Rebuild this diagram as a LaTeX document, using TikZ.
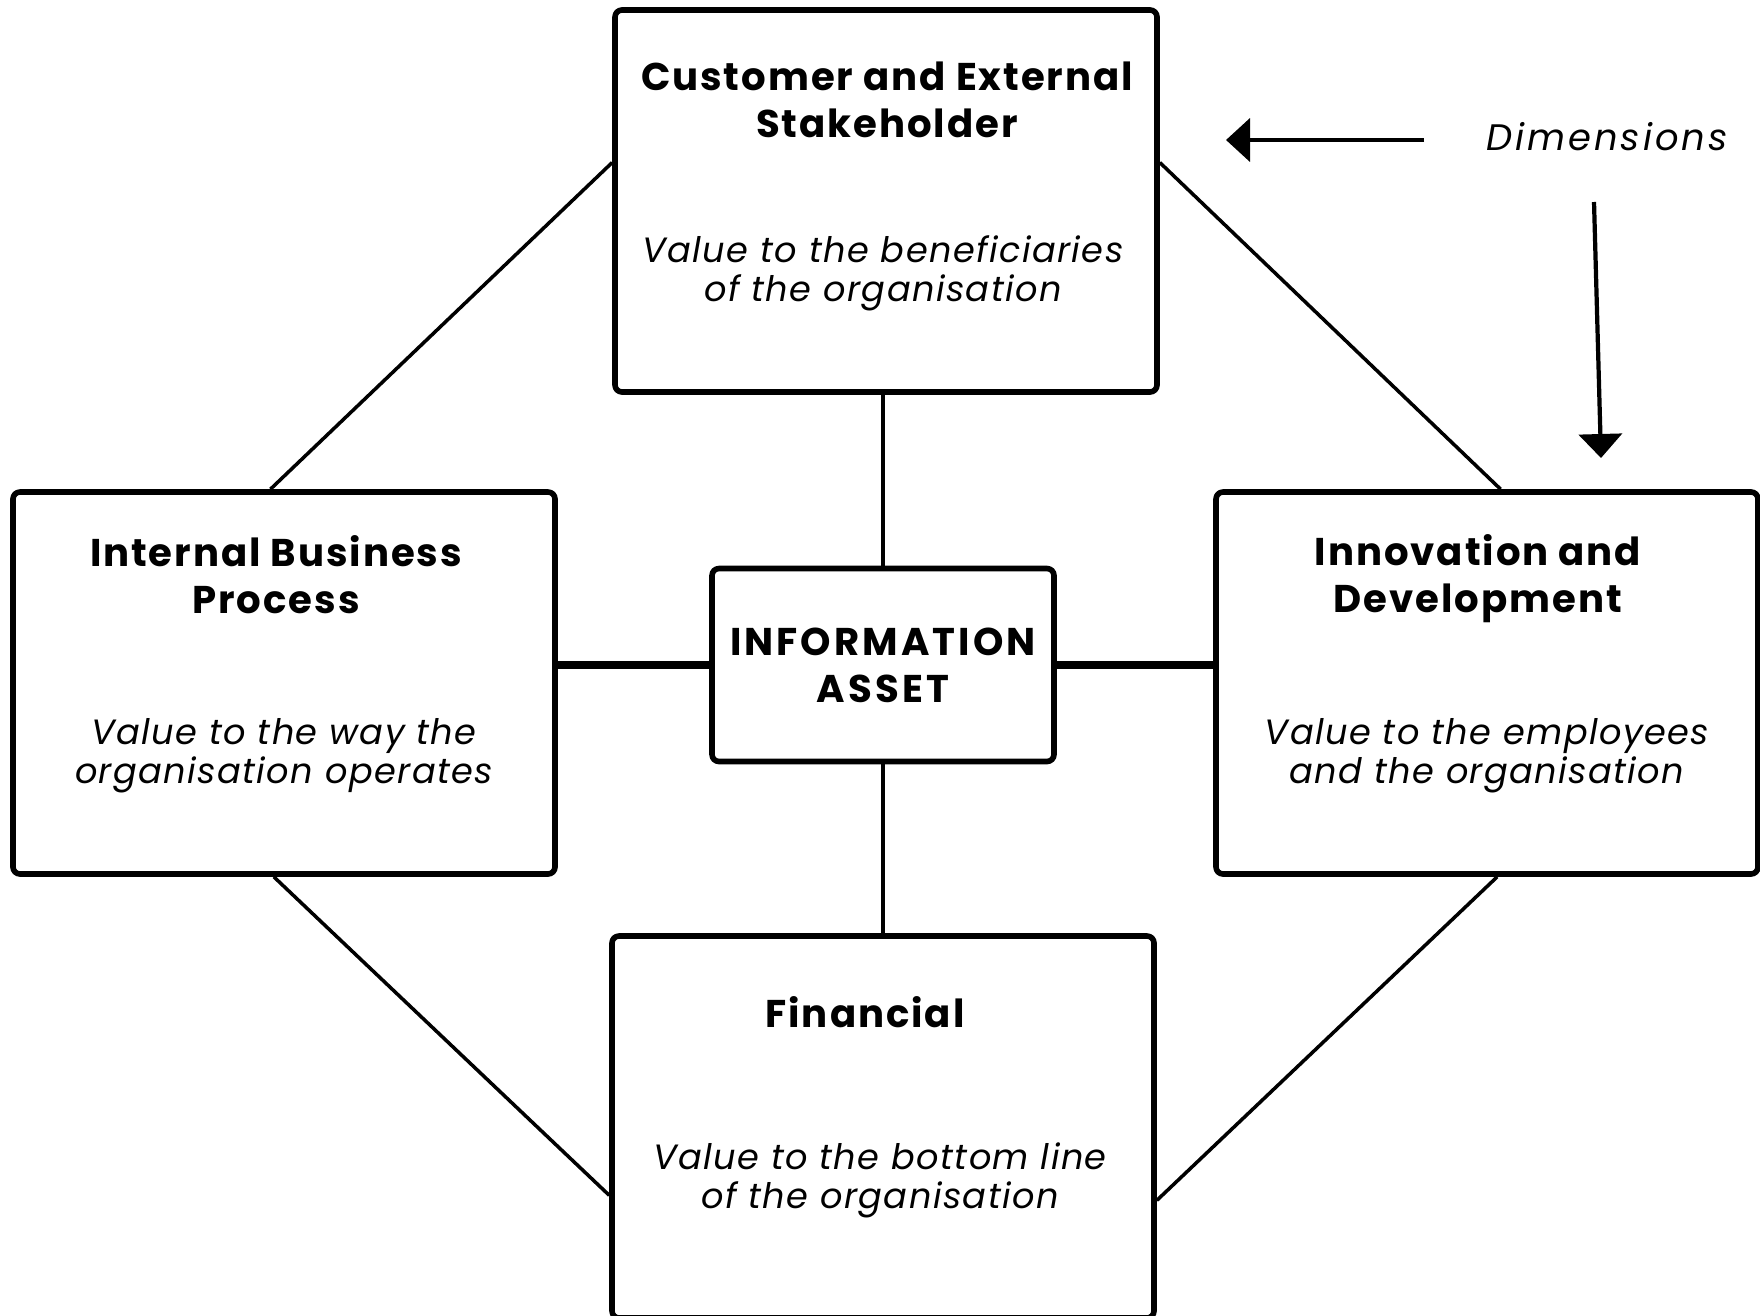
\documentclass[tikz,border=0pt]{standalone}
\usepackage{fontspec}
\setmainfont{Poppins}
\usetikzlibrary{arrows.meta,positioning}
\tikzset{
	panel/.style={draw, line width=1.6pt, rounded corners=2pt, minimum width=54.2mm, minimum height=38.2mm},
	hub/.style={draw, line width=1.6pt, rounded corners=2pt, minimum width=34.2mm, minimum height=19.3mm, align=center, font=\bfseries\fontsize{11}{13.4}\selectfont\addfontfeature{LetterSpace=8}},
	head/.style={font=\bfseries\fontsize{11}{13.4}\selectfont\addfontfeature{LetterSpace=5}, align=center},
	note/.style={font=\itshape\fontsize{10}{11.1}\selectfont\addfontfeature{LetterSpace=4}, align=center},
	spoke/.style={line width=1.3pt},
	rim/.style={line width=1pt},
	pointer/.style={line width=1.2pt, -{Triangle[width=4.3mm,length=2.4mm]}}
}
\begin{document}
\begin{tikzpicture}[x=0.1mm, y=-0.1mm, line join=round]
		\useasboundingbox (0,0) rectangle (1760,1315);
		% the four dimensions and the hub
		\node[panel] (cust) at (886,201) {};
		\node[panel] (proc) at (284,683) {};
		\node[panel] (inno) at (1487,683) {};
		\node[panel] (fin) at (883,1127) {};
		\node[hub] (asset) at (883,665) {INFORMATION\\ASSET};
		% texts in the boxes
		\node[head] (custhead) at (887,100) {Customer and External\\Stakeholder};
		\node[note] (custnote) at (883,273) {Value to the beneficiaries\\of the organisation};
		\node[head] (prochead) at (276,575) {Internal Business\\Process};
		\node[note] (procnote) at (284,756) {Value to the way the\\organisation operates};
		\node[head] (innohead) at (1478,579) {Innovation and\\Development};
		\node[note] (innonote) at (1487,756) {Value to the employees\\and the organisation};
		\node[head] (finhead) at (865,1012) {Financial};
		\node[note] (finnote) at (880,1180) {Value to the bottom line\\of the organisation};
		% spokes to the hub
		\draw[spoke] (asset.north) -- (asset.north |- cust.south);
		\draw[spoke] (asset.south) -- (asset.south |- fin.north);
		\draw[spoke, line width=2.2pt] (asset.west) -- (asset.west -| proc.east);
		\draw[spoke, line width=2.2pt] (asset.east) -- (asset.east -| inno.west);
		% outer ring
		\draw[rim] (cust.172) -- (proc.94);
		\draw[rim] (cust.8) -- (inno.86);
		\draw[rim] (proc.267) -- (fin.194);
		\draw[rim] (inno.273) -- (fin.345);
		% legend
		\node[note, font=\itshape\fontsize{10.5}{12}\selectfont\addfontfeature{LetterSpace=8}] (dim) at (1607,137) {Dimensions};
		\coordinate (lefttip) at (1226,140);
		\coordinate (downtop) at (1594,202);
		\coordinate (downtip) at (1601,458);
		\draw[pointer, shorten <=5mm] (dim.west |- lefttip) -- (lefttip);
		\draw[pointer] (downtop) -- (downtip);
		\end{tikzpicture}
\end{document}
